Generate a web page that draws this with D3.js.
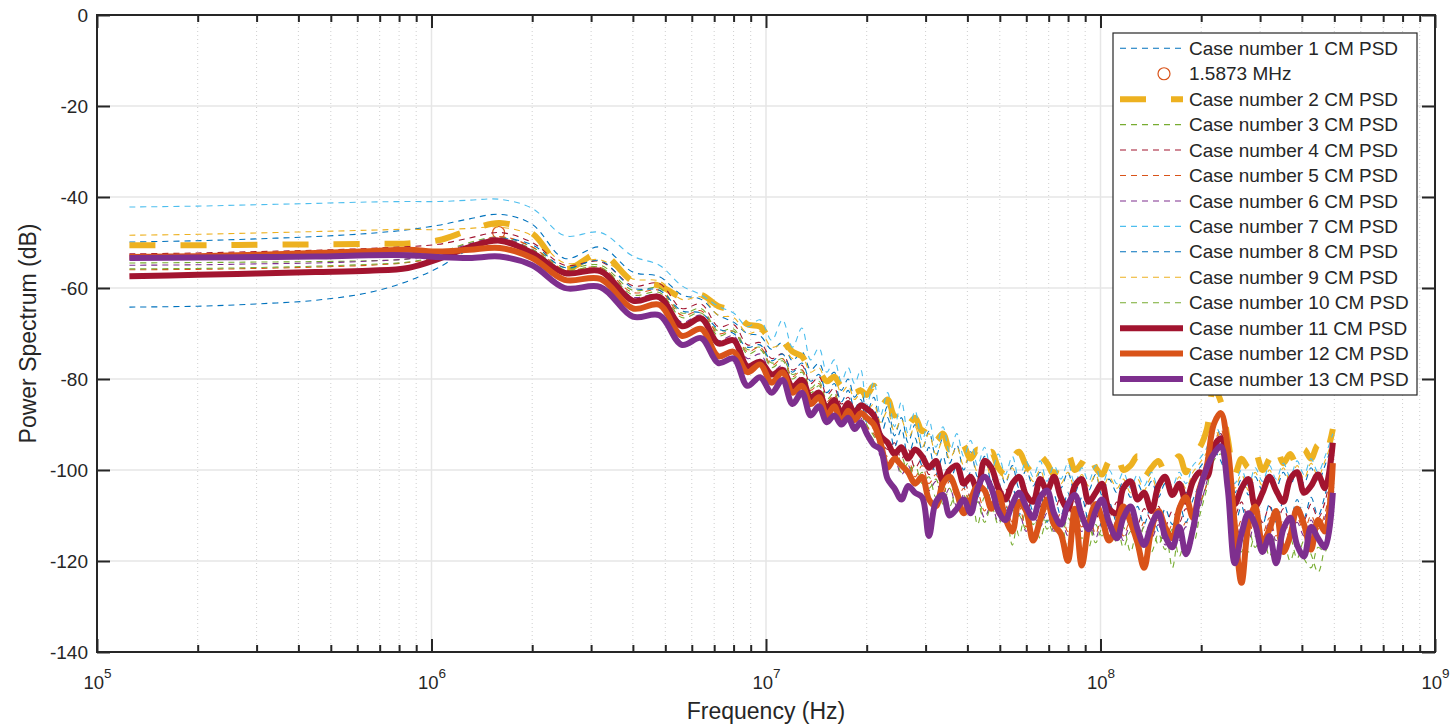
<!DOCTYPE html>
<html>
<head>
<meta charset="utf-8">
<script src="https://cdn.jsdelivr.net/npm/d3@7"></script>
<style>
body { margin: 0; background: #fff; }
text { font-family: "Liberation Sans", Arial, sans-serif; fill: #262626; }
</style>
</head>
<body>
<svg id="chart" width="1450" height="725"></svg>
<script>
// frequency points in MHz (shared by all cases)
var freqMHz = [
	0.125, 0.2, 0.3, 0.45, 0.65, 0.85, 1.05, 1.3, 1.6, 2.0,
	2.5, 3.2, 4.0, 4.8, 5.6, 6.4, 7.2, 8.0, 8.8, 9.6,
	10.4, 11.2, 12.0, 12.8, 13.6, 14.4, 15.2, 16.0, 16.8, 17.6,
	18.4, 19.2, 20, 21, 22, 23.1, 24.2, 25.4, 26.6, 27.9,
	29.3, 30.7, 32.2, 33.8, 35.4, 37.2, 39, 40.9, 42.9, 45,
	47.2, 49.5, 51.9, 54.5, 57.1, 59.9, 62.9, 66, 69.2, 72.6,
	76.1, 79.9, 83.8, 87.9, 92.2, 96.7, 101, 106, 112, 117,
	123, 129, 135, 142, 149, 156, 164, 172, 180, 189,
	198, 208, 218, 229, 240, 252, 264, 277, 290, 305,
	320, 335, 352, 369, 387, 406, 426, 447, 469, 495
];

var psdCase1 = [
	-49.9, -49.6, -49.2, -48.7, -48.0, -47.2, -46.2, -44.8, -43.8, -46.0,
	-53.5, -51.0, -56.5, -57.5, -61.5, -62.5, -66.0, -67.5, -70.0, -70.5,
	-73.5, -72.0, -76.0, -74.0, -78.0, -76.5, -80.0, -78.5, -82.5, -80.0,
	-84.0, -82.0, -87.5, -84.0, -90.0, -86.0, -92.5, -88.5, -94.0, -90.0,
	-95.5, -91.5, -97.0, -93.0, -98.5, -94.5, -100.0, -96.0, -101.5, -97.0,
	-102.5, -98.5, -103.0, -99.0, -104.0, -100.0, -103.5, -100.5, -104.5, -101.0,
	-104.0, -100.5, -105.0, -101.5, -104.5, -101.0, -105.5, -102.0, -105.0, -102.5,
	-106.0, -103.0, -105.5, -102.5, -106.0, -103.0, -105.5, -102.5, -105.0, -101.5,
	-99.5, -97.0, -92.0, -95.0, -99.5, -105.0, -102.0, -105.5, -101.5, -104.5,
	-101.0, -104.0, -100.5, -103.5, -100.0, -103.0, -99.5, -102.5, -99.0, -94.0
];
var psdCase2 = [
	-50.6, -50.6, -50.5, -50.4, -50.3, -50.2, -49.5, -47.3, -45.7, -48.0,
	-55.8, -52.4, -58.5, -59.5, -62.0, -61.5, -64.0, -65.0, -68.0, -68.5,
	-71.5, -71.5, -74.0, -75.0, -78.0, -78.5, -80.5, -79.5, -81.5, -80.5,
	-83.0, -82.5, -83.5, -81.5, -86.0, -84.5, -88.0, -87.0, -90.0, -88.5,
	-91.5, -90.0, -93.5, -92.0, -95.5, -93.0, -94.5, -97.5, -95.5, -98.0,
	-96.0, -99.5, -101.0, -97.5, -96.0, -99.0, -100.5, -97.0, -98.5, -101.0,
	-97.5, -96.5, -100.0, -98.5, -96.0, -99.5, -101.0, -98.0, -96.5, -100.0,
	-99.0, -97.0, -101.5, -99.5, -98.0, -100.5, -98.5, -97.0, -100.5, -96.5,
	-95.0, -91.0, -82.0, -85.0, -93.0, -101.0, -97.5, -99.5, -96.0, -100.0,
	-97.5, -95.0, -98.5, -96.5, -99.0, -95.5, -97.5, -94.5, -96.5, -91.0
];
var psdCase3 = [
	-54.5, -54.4, -54.3, -54.2, -54.0, -53.6, -52.3, -50.0, -48.8, -51.0,
	-55.5, -55.0, -60.5, -60.0, -65.5, -64.5, -69.5, -69.0, -73.5, -73.0,
	-76.5, -75.5, -79.0, -78.0, -82.0, -80.5, -84.5, -83.0, -86.5, -85.0,
	-88.0, -86.5, -90.0, -92.5, -95.0, -97.5, -99.0, -97.0, -101.0, -99.0,
	-103.0, -101.5, -106.0, -103.0, -108.0, -104.5, -107.0, -105.0, -112.0, -106.0,
	-109.0, -107.0, -111.0, -108.5, -114.5, -109.0, -112.0, -108.0, -113.0, -110.0,
	-115.0, -110.5, -113.0, -111.0, -117.0, -112.0, -114.5, -111.5, -116.0, -112.5,
	-118.0, -113.0, -115.5, -112.0, -116.5, -113.0, -121.5, -114.0, -117.0, -112.0,
	-108.0, -103.0, -96.0, -95.0, -102.0, -114.0, -118.0, -113.0, -117.0, -114.0,
	-119.0, -114.5, -118.0, -115.0, -119.5, -115.5, -118.5, -122.5, -116.0, -100.0
];
var psdCase4 = [
	-52.5, -52.3, -52.0, -51.7, -51.3, -50.9, -50.4, -49.0, -47.8, -50.0,
	-55.0, -54.2, -59.5, -59.0, -64.5, -63.5, -68.5, -68.0, -72.5, -72.0,
	-75.5, -74.5, -78.0, -77.0, -81.0, -79.5, -83.5, -82.0, -85.5, -84.0,
	-87.0, -85.5, -89.0, -91.0, -93.5, -95.5, -94.0, -97.5, -95.5, -99.5,
	-97.5, -101.0, -99.0, -103.0, -100.5, -104.5, -102.0, -106.0, -103.0, -105.5,
	-102.5, -107.0, -104.0, -108.5, -105.0, -109.5, -106.0, -108.0, -105.0, -109.0,
	-106.0, -110.0, -107.0, -109.5, -106.5, -111.0, -107.5, -110.5, -107.0, -111.5,
	-108.0, -112.0, -108.5, -111.0, -108.0, -112.5, -109.0, -111.5, -108.5, -110.0,
	-105.0, -101.0, -94.0, -92.0, -100.0, -110.0, -107.0, -111.0, -107.5, -111.5,
	-108.0, -112.0, -108.5, -111.5, -108.0, -111.0, -107.5, -110.5, -107.0, -97.0
];
var psdCase5 = [
	-56.0, -55.9, -55.7, -55.4, -55.0, -54.4, -53.2, -50.7, -48.7, -51.0,
	-56.0, -55.5, -61.0, -60.5, -66.0, -65.0, -70.0, -69.5, -74.0, -73.0,
	-77.0, -75.5, -79.5, -78.0, -82.5, -81.0, -85.0, -83.5, -87.0, -85.5,
	-88.5, -87.0, -90.5, -92.0, -95.0, -97.0, -95.5, -99.5, -97.5, -101.5,
	-99.0, -103.0, -101.0, -105.0, -102.5, -106.5, -104.0, -108.0, -105.0, -109.0,
	-106.0, -110.0, -107.5, -111.5, -108.0, -112.5, -109.0, -111.5, -108.5, -112.5,
	-109.5, -113.5, -110.0, -112.5, -109.5, -114.0, -110.5, -113.5, -110.0, -114.5,
	-111.0, -115.0, -111.5, -114.0, -111.0, -115.5, -112.0, -114.5, -111.5, -113.0,
	-107.5, -103.0, -95.0, -91.0, -101.0, -115.0, -111.0, -114.5, -110.5, -114.0,
	-110.5, -114.5, -111.0, -114.0, -110.5, -113.5, -110.0, -113.0, -109.5, -99.0
];
var psdCase6 = [
	-55.0, -54.9, -54.7, -54.5, -54.1, -53.6, -52.5, -50.3, -49.0, -51.5,
	-56.5, -56.0, -62.0, -61.5, -67.5, -66.0, -71.5, -70.5, -75.5, -74.5,
	-78.5, -77.0, -81.0, -79.5, -84.0, -82.5, -86.5, -85.0, -88.5, -87.0,
	-90.0, -88.5, -92.0, -94.0, -97.0, -99.0, -97.5, -101.0, -99.0, -103.0,
	-101.0, -104.5, -102.5, -106.5, -104.0, -108.0, -105.5, -109.5, -106.5, -110.5,
	-107.5, -111.5, -108.5, -112.5, -109.5, -113.5, -110.0, -112.5, -109.5, -113.5,
	-110.5, -114.5, -111.0, -113.5, -110.5, -115.0, -111.5, -114.5, -111.0, -115.5,
	-112.0, -116.0, -112.5, -115.0, -112.0, -116.5, -113.0, -115.5, -112.5, -114.0,
	-108.5, -102.5, -97.0, -95.5, -103.0, -116.0, -112.0, -115.5, -111.5, -115.0,
	-111.5, -115.5, -112.0, -115.0, -111.5, -114.5, -111.0, -114.0, -110.5, -100.0
];
var psdCase7 = [
	-42.2, -42.0, -41.7, -41.4, -41.1, -41.0, -41.0, -40.7, -40.5, -42.5,
	-48.5, -47.8, -53.0, -55.0, -59.5, -61.5, -64.0, -65.5, -68.5, -67.0,
	-71.5, -67.0, -73.0, -68.8, -75.8, -73.2, -78.5, -75.8, -80.5, -77.5,
	-81.0, -78.0, -86.0, -80.5, -88.0, -83.0, -90.5, -85.0, -92.0, -87.0,
	-93.5, -89.0, -95.0, -90.5, -96.0, -92.0, -97.0, -93.5, -99.0, -95.0,
	-100.0, -96.5, -101.0, -97.0, -102.0, -98.0, -101.5, -98.0, -102.5, -99.0,
	-102.0, -98.5, -103.0, -99.5, -102.5, -99.0, -103.5, -100.0, -103.0, -100.5,
	-104.0, -101.0, -103.5, -100.5, -104.0, -101.0, -103.5, -100.5, -103.0, -99.0,
	-97.5, -95.0, -90.0, -92.5, -97.0, -103.0, -100.0, -103.5, -99.5, -102.5,
	-99.0, -102.0, -98.5, -101.5, -98.0, -101.0, -97.5, -100.5, -97.0, -92.0
];
var psdCase8 = [
	-64.2, -64.0, -63.5, -62.7, -61.0, -58.5, -55.5, -51.5, -49.2, -50.5,
	-55.5, -54.0, -60.0, -60.5, -65.0, -65.5, -69.0, -70.0, -73.0, -72.5,
	-76.0, -74.5, -78.5, -76.5, -80.5, -79.0, -83.0, -81.0, -85.0, -82.5,
	-86.5, -84.5, -89.5, -86.5, -92.5, -88.5, -95.0, -91.0, -97.0, -93.0,
	-99.0, -95.0, -101.0, -97.0, -102.5, -99.0, -104.0, -100.5, -106.0, -101.0,
	-107.0, -102.5, -108.5, -103.5, -110.0, -104.5, -109.0, -105.0, -111.5, -105.5,
	-110.0, -105.0, -112.0, -106.0, -111.0, -106.5, -112.5, -107.0, -111.5, -107.5,
	-113.0, -108.0, -112.0, -107.5, -113.5, -108.5, -112.0, -107.5, -111.5, -106.5,
	-103.0, -100.0, -96.0, -98.0, -104.0, -112.0, -108.0, -113.0, -108.5, -112.0,
	-107.5, -111.5, -107.0, -111.0, -106.5, -110.5, -106.0, -110.0, -105.5, -98.0
];
var psdCase9 = [
	-48.4, -48.2, -47.9, -47.6, -47.3, -47.1, -47.2, -46.9, -46.6, -48.5,
	-54.5, -53.8, -58.0, -58.5, -62.5, -62.0, -66.0, -66.5, -70.0, -69.5,
	-73.0, -72.5, -75.5, -75.0, -78.5, -77.5, -81.0, -80.0, -83.0, -81.5,
	-84.5, -83.0, -87.0, -85.5, -89.5, -87.0, -91.5, -89.0, -93.0, -90.5,
	-95.0, -92.0, -96.5, -93.5, -97.5, -95.0, -99.0, -96.5, -100.5, -97.5,
	-101.5, -99.0, -102.5, -99.5, -103.0, -100.0, -102.5, -100.0, -103.5, -100.5,
	-103.0, -100.5, -104.0, -101.0, -103.5, -101.0, -104.5, -101.5, -104.0, -102.0,
	-105.0, -102.0, -104.5, -101.5, -105.0, -102.0, -104.5, -101.5, -104.0, -100.5,
	-98.5, -96.0, -91.0, -93.5, -98.0, -104.0, -101.0, -104.5, -100.5, -103.5,
	-100.0, -103.0, -99.5, -102.5, -99.0, -102.0, -98.5, -101.5, -98.0, -93.0
];
var psdCase10 = [
	-55.8, -55.7, -55.5, -55.2, -54.8, -54.3, -53.0, -50.8, -49.3, -51.5,
	-56.0, -55.5, -61.5, -61.0, -66.5, -65.5, -70.5, -69.5, -74.5, -73.5,
	-77.5, -76.0, -80.0, -78.5, -83.0, -81.5, -85.5, -84.0, -87.5, -86.0,
	-89.0, -87.5, -91.0, -93.5, -96.0, -98.5, -97.0, -100.5, -98.5, -102.5,
	-100.5, -104.0, -102.0, -107.5, -104.0, -109.0, -105.5, -110.0, -107.0, -111.5,
	-108.0, -112.0, -109.0, -116.5, -110.0, -113.0, -109.5, -115.0, -111.0, -114.0,
	-111.5, -117.5, -112.0, -115.0, -112.5, -116.0, -113.0, -115.5, -112.0, -117.0,
	-113.5, -116.5, -112.5, -118.0, -114.0, -117.5, -113.0, -119.0, -115.0, -116.0,
	-110.0, -104.0, -98.0, -96.5, -104.0, -118.5, -115.0, -118.0, -114.5, -118.5,
	-114.0, -119.0, -115.5, -120.0, -116.0, -119.5, -121.5, -117.0, -118.0, -102.0
];
var psdCase11 = [
	-57.4, -57.1, -56.8, -56.5, -56.2, -55.6, -53.6, -51.0, -49.6, -52.3,
	-56.7, -56.3, -62.8, -62.0, -68.4, -66.7, -72.2, -71.5, -77.2, -76.2,
	-79.0, -78.0, -81.7, -80.2, -84.0, -83.0, -86.5, -84.6, -87.5, -85.3,
	-87.5, -85.8, -86.5, -88.0, -92.5, -94.0, -96.5, -95.0, -97.5, -95.5,
	-97.0, -99.5, -98.0, -102.5, -100.0, -99.0, -103.0, -101.5, -104.5, -98.0,
	-99.5, -104.0, -106.5, -103.0, -101.5, -105.5, -107.0, -102.0, -104.5, -101.5,
	-106.0, -108.5, -103.5, -102.0, -107.0, -105.0, -103.0, -108.5, -109.5, -104.0,
	-102.5, -106.5, -105.0, -109.0, -103.5, -101.5, -105.5, -103.0, -107.0, -102.5,
	-100.5, -101.5, -95.0, -93.0, -99.0, -107.5, -104.0, -102.0, -108.0, -105.0,
	-101.5, -104.5, -107.0, -102.0, -100.5, -105.0, -103.5, -101.0, -104.0, -94.0
];
var psdCase12 = [
	-53.2, -53.0, -52.7, -52.3, -51.9, -51.6, -52.0, -51.6, -51.2, -53.4,
	-58.2, -58.0, -64.5, -63.7, -70.5, -69.0, -75.0, -74.0, -78.5, -76.8,
	-80.8, -78.5, -83.0, -81.5, -85.5, -84.0, -88.0, -86.0, -89.5, -87.0,
	-89.0, -87.5, -88.5, -90.0, -94.0, -99.5, -97.5, -99.0, -100.5, -103.0,
	-101.5, -106.5, -108.0, -103.0, -101.5, -105.0, -109.5, -106.5, -103.5, -104.5,
	-108.5, -105.0, -110.5, -113.5, -107.0, -109.0, -115.5, -111.0, -106.5, -112.0,
	-114.0, -120.0, -108.5, -121.0, -112.0, -107.5, -110.5, -115.5, -112.0, -108.0,
	-111.5, -116.0, -121.5, -113.0, -109.0, -112.5, -115.0, -108.5, -106.0, -110.5,
	-104.0, -99.0, -90.0, -87.5, -95.0, -112.0, -124.8, -112.0, -108.0, -116.0,
	-113.0, -109.0, -118.0, -114.5, -108.5, -112.0, -117.5, -111.0, -113.5, -98.5
];
var psdCase13 = [
	-53.4, -53.3, -53.2, -53.1, -52.8, -52.8, -53.2, -53.4, -53.1, -55.0,
	-60.0, -59.8, -66.3, -66.0, -72.5, -71.0, -76.5, -75.5, -81.5, -79.6,
	-83.0, -80.2, -85.5, -83.0, -88.0, -86.0, -89.5, -88.0, -90.0, -88.5,
	-91.0, -89.5, -92.0, -94.5, -95.5, -102.0, -104.0, -106.5, -103.5, -105.0,
	-106.0, -114.5, -107.0, -105.5, -110.0, -108.5, -106.5, -109.5, -104.0, -101.5,
	-104.0, -109.0, -111.0, -107.5, -105.0, -108.0, -110.5, -106.0, -104.5, -109.5,
	-112.0, -107.5, -105.5, -110.0, -113.0, -109.0, -106.5, -111.5, -115.0, -110.5,
	-108.0, -113.0, -116.5, -112.0, -109.5, -114.5, -117.0, -112.5, -118.5, -113.0,
	-104.5, -99.5, -96.5, -94.8, -104.0, -120.5, -114.0, -109.5, -112.0, -118.0,
	-114.5, -120.5, -113.0, -110.5, -116.5, -119.0, -112.5, -115.0, -117.0, -105.0
];

// peak marker
var markerFreqMHz = 1.5873;
var markerDb = -47.8;
var markerLabel = "1.5873 MHz";

var xTicks = [1e5, 1e6, 1e7, 1e8, 1e9];
var yTicks = [-140, -120, -100, -80, -60, -40, -20, 0];

var caseData = [psdCase1, psdCase2, psdCase3, psdCase4, psdCase5, psdCase6, psdCase7,
	psdCase8, psdCase9, psdCase10, psdCase11, psdCase12, psdCase13];
var caseColors = ["#0072BD", "#EDB120", "#77AC30", "#A2142F", "#D95319", "#7E2F8E", "#4DBEEE",
	"#0072BD", "#EDB120", "#77AC30", "#A2142F", "#D95319", "#7E2F8E"];

function caseStyle(i) {
	if (i == 1) return {width: 6, dash: "26,25"};
	if (i >= 10) return {width: 6, dash: null};
	return {width: 1.1, dash: "6,5"};
}

var svg = d3.select("#chart"),
	MARGINS = {top: 15, right: 15, bottom: 73, left: 97},
	WIDTH = 1450,
	HEIGHT = 725,
	xScale = d3.scaleLog()
		.domain([1e5, 1e9])
		.range([MARGINS.left, WIDTH - MARGINS.right]),
	yScale = d3.scaleLinear()
		.domain([-140, 0])
		.range([HEIGHT - MARGINS.bottom, MARGINS.top]);

var x0 = MARGINS.left, x1 = WIDTH - MARGINS.right,
	y0 = MARGINS.top, y1 = HEIGHT - MARGINS.bottom;

var minorTicks = xScale.ticks().filter(function(d) {
	return xTicks.indexOf(d) < 0;
});

// grid
var grid = svg.append("g");
grid.selectAll(".minor").data(minorTicks).enter().append("line")
	.attr("x1", function(d) { return xScale(d); })
	.attr("x2", function(d) { return xScale(d); })
	.attr("y1", y0).attr("y2", y1)
	.attr("stroke", "#cfcfcf").attr("stroke-width", 1)
	.attr("stroke-dasharray", "1,3");
grid.selectAll(".majx").data(xTicks.slice(1, -1)).enter().append("line")
	.attr("x1", function(d) { return xScale(d); })
	.attr("x2", function(d) { return xScale(d); })
	.attr("y1", y0).attr("y2", y1)
	.attr("stroke", "#e6e6e6").attr("stroke-width", 1.5);
grid.selectAll(".majy").data(yTicks.slice(1, -1)).enter().append("line")
	.attr("x1", x0).attr("x2", x1)
	.attr("y1", function(d) { return yScale(d); })
	.attr("y2", function(d) { return yScale(d); })
	.attr("stroke", "#e6e6e6").attr("stroke-width", 1.5);

svg.append("clipPath").attr("id", "plotclip").append("rect")
	.attr("x", x0).attr("y", y0).attr("width", x1 - x0).attr("height", y1 - y0);

var lineGen = d3.line()
	.x(function(d, i) { return xScale(freqMHz[i] * 1e6); })
	.y(function(d) { return yScale(d); })
	.curve(d3.curveCatmullRom.alpha(0.5));

var plot = svg.append("g").attr("clip-path", "url(#plotclip)");

function drawCase(i) {
	var st = caseStyle(i);
	plot.append("path")
		.attr("d", lineGen(caseData[i]))
		.attr("fill", "none")
		.attr("stroke", caseColors[i])
		.attr("stroke-width", st.width)
		.attr("stroke-linejoin", "round")
		.attr("stroke-dasharray", st.dash);
}

drawCase(0);
plot.append("circle")
	.attr("cx", xScale(markerFreqMHz * 1e6))
	.attr("cy", yScale(markerDb))
	.attr("r", 6)
	.attr("fill", "none")
	.attr("stroke", "#D95319")
	.attr("stroke-width", 1.2);
for (var i = 1; i < caseData.length; i++) {
	drawCase(i);
}

// axes
var axisColor = "#262626";
function styleAxis(g) {
	g.select(".domain").remove();
	g.selectAll(".tick line").attr("stroke", axisColor).attr("stroke-width", 2);
}

var xAxis = svg.append("g")
	.attr("transform", "translate(0," + y1 + ")")
	.call(d3.axisBottom(xScale).tickValues(xTicks).tickSize(-13).tickSizeOuter(0));
styleAxis(xAxis);
xAxis.selectAll(".tick text")
	.attr("y", 37).attr("dy", null)
	.attr("font-size", 18.5)
	.text(null)
	.each(function(d) {
		var t = d3.select(this);
		t.append("tspan").text("10");
		t.append("tspan").attr("dy", -11).attr("font-size", 13.5)
			.text(Math.round(Math.log10(d)));
	});

var xAxisMinor = svg.append("g")
	.attr("transform", "translate(0," + y1 + ")")
	.call(d3.axisBottom(xScale).tickValues(minorTicks).tickSize(-7).tickFormat(""));
styleAxis(xAxisMinor);

var xTop = svg.append("g")
	.attr("transform", "translate(0," + y0 + ")")
	.call(d3.axisTop(xScale).tickValues(xTicks).tickSize(-13).tickFormat(""));
styleAxis(xTop);
var xTopMinor = svg.append("g")
	.attr("transform", "translate(0," + y0 + ")")
	.call(d3.axisTop(xScale).tickValues(minorTicks).tickSize(-7).tickFormat(""));
styleAxis(xTopMinor);

var yAxis = svg.append("g")
	.attr("transform", "translate(" + x0 + ",0)")
	.call(d3.axisLeft(yScale).tickValues(yTicks).tickSize(-13).tickPadding(9)
		.tickFormat(function(d) { return String(d); }));
styleAxis(yAxis);
yAxis.selectAll(".tick text").attr("font-size", 19);

var yRight = svg.append("g")
	.attr("transform", "translate(" + x1 + ",0)")
	.call(d3.axisRight(yScale).tickValues(yTicks).tickSize(-13).tickFormat(""));
styleAxis(yRight);

svg.append("rect")
	.attr("x", x0).attr("y", y0)
	.attr("width", x1 - x0).attr("height", y1 - y0)
	.attr("fill", "none").attr("stroke", axisColor).attr("stroke-width", 2);

svg.append("text")
	.attr("x", (x0 + x1) / 2).attr("y", 719)
	.attr("text-anchor", "middle").attr("font-size", 23)
	.text("Frequency (Hz)");
svg.append("text")
	.attr("transform", "translate(36," + ((y0 + y1) / 2) + ") rotate(-90)")
	.attr("text-anchor", "middle").attr("font-size", 23)
	.text("Power Spectrum (dB)");

// legend
var legendItems = [];
legendItems.push({label: "Case number 1 CM PSD", idx: 0});
legendItems.push({label: markerLabel, marker: true});
for (var k = 1; k < 13; k++) {
	legendItems.push({label: "Case number " + (k + 1) + " CM PSD", idx: k});
}

var legend = svg.append("g");
legend.append("rect")
	.attr("x", 1113).attr("y", 33).attr("width", 304).attr("height", 362)
	.attr("fill", "#fff").attr("stroke", axisColor).attr("stroke-width", 1.2);

legendItems.forEach(function(item, r) {
	var ly = 48.3 + r * 25.44;
	if (item.marker) {
		legend.append("circle")
			.attr("cx", 1164).attr("cy", ly).attr("r", 6)
			.attr("fill", "none").attr("stroke", "#D95319").attr("stroke-width", 1.2);
	} else {
		var st = caseStyle(item.idx);
		legend.append("line")
			.attr("x1", 1120).attr("x2", 1183)
			.attr("y1", ly).attr("y2", ly)
			.attr("stroke", caseColors[item.idx])
			.attr("stroke-width", st.width)
			.attr("stroke-dasharray", st.dash);
	}
	legend.append("text")
		.attr("x", 1189).attr("y", ly).attr("dy", "0.35em")
		.attr("font-size", 19)
		.text(item.label);
});
</script>
</body>
</html>
